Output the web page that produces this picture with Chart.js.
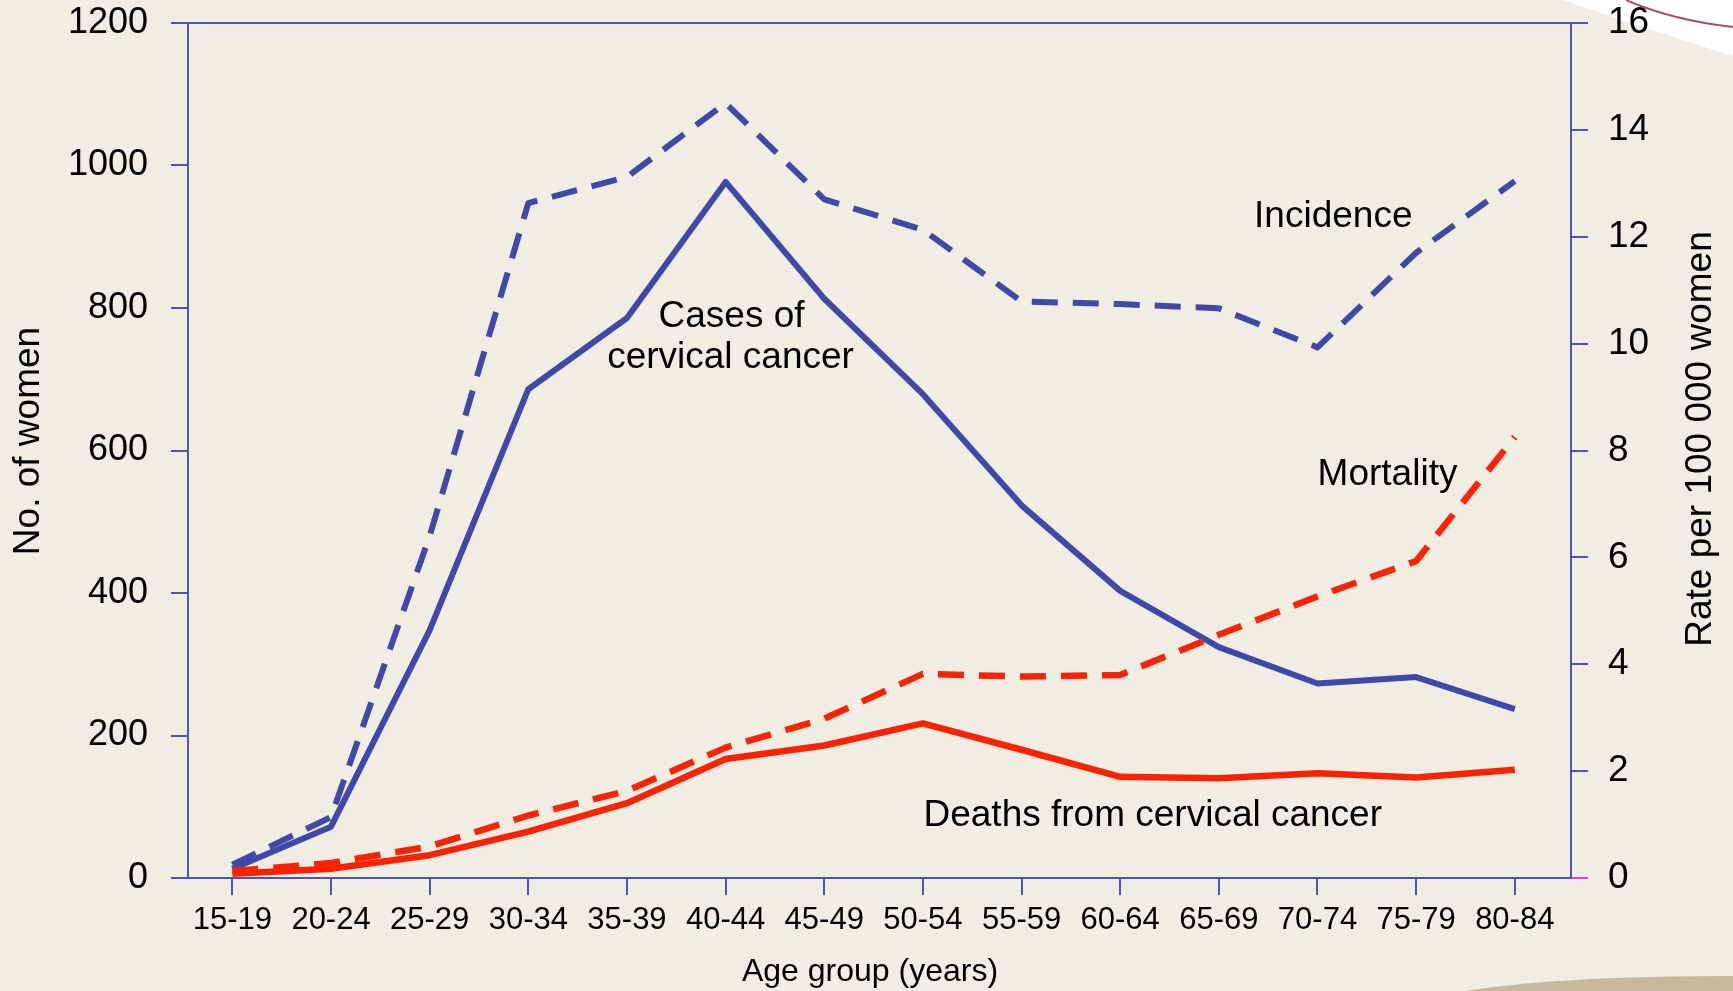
<!DOCTYPE html>
<html>
<head>
<meta charset="utf-8">
<title>Cervical cancer by age group</title>
<script src="https://cdn.jsdelivr.net/npm/chart.js@4.4.1/dist/chart.umd.min.js"></script>
<style>
    html, body { margin: 0; padding: 0; background: #F0EEE3; }
    #wrap { width: 1733px; height: 991px; }
</style>
</head>
<body>
<div id="wrap"><canvas id="chart" width="1733" height="991"></canvas></div>
<script>
// --- data ---
const ageGroups = ['15-19', '20-24', '25-29', '30-34', '35-39', '40-44', '45-49',
                   '50-54', '55-59', '60-64', '65-69', '70-74', '75-79', '80-84'];

// left axis: number of women
const casesCount  = [13, 72, 348, 686, 786, 977, 813, 679, 523, 403, 324, 273, 282, 237];
const deathsCount = [6, 13, 32, 65, 105, 167, 186, 217, 180, 142, 140, 147, 141, 152];

// right axis: rate per 100 000 women
const incidenceRate = [0.25, 1.14, 6.4, 12.63, 13.12, 14.5, 12.7, 12.13, 10.79, 10.74, 10.66, 9.93, 11.7, 13.04];
const mortalityRate = [0.13, 0.28, 0.59, 1.17, 1.63, 2.44, 2.98, 3.82, 3.77, 3.80, 4.55, 5.27, 5.93, 8.25];

const countTicks = [0, 200, 400, 600, 800, 1000, 1200];
const rateTicks  = [0, 2, 4, 6, 8, 10, 12, 14, 16];

// text labels inside the plot (x = age group index, y = left axis value at baseline)
const notes = [
    { text: 'Cases of', x: 5.06, y: 773 },
    { text: 'cervical cancer', x: 5.05, y: 716 },
    { text: 'Incidence', x: 11.16, y: 914 },
    { text: 'Mortality', x: 11.71, y: 552 },
    { text: 'Deaths from cervical cancer', x: 9.33, y: 73 }
];

const FONT = "'Liberation Sans', Arial, Helvetica, sans-serif";
const BLUE = '#4048AA';
const RED = '#FF2200';
const AXIS = '#4E53B8';

const toPoints = arr => arr.map((v, i) => ({ x: i, y: v }));

// y axes: fixed width, no extra room above/below for the end labels
const fitY = width => s => {
    s.width = width;
    s.paddingTop = 0;
    s.paddingBottom = 0;
};

// background, white corner and tan swoosh
const backdrop = {
    id: 'backdrop',
    beforeDraw(chart) {
        const { ctx, width, height } = chart;
        ctx.save();
        ctx.fillStyle = '#F0EEE3';
        ctx.fillRect(0, 0, width, height);

        ctx.fillStyle = '#FFFFFF';
        ctx.beginPath();
        ctx.moveTo(1563, 0);
        ctx.quadraticCurveTo(1650, 30, 1733, 56);
        ctx.lineTo(1733, 0);
        ctx.closePath();
        ctx.fill();

        ctx.strokeStyle = '#A3506E';
        ctx.lineWidth = 2;
        ctx.beginPath();
        ctx.moveTo(1626, 0);
        ctx.quadraticCurveTo(1672, 20, 1733, 27);
        ctx.stroke();

        ctx.fillStyle = '#C8B89B';
        ctx.beginPath();
        ctx.moveTo(1465, 991);
        ctx.quadraticCurveTo(1560, 976, 1733, 976);
        ctx.lineTo(1733, 991);
        ctx.closePath();
        ctx.fill();
        ctx.restore();
    }
};

// top frame line, axis titles and inline labels
const extras = {
    id: 'extras',
    afterDraw(chart) {
        const { ctx, chartArea, scales } = chart;
        ctx.save();
        ctx.strokeStyle = AXIS;
        ctx.lineWidth = 2;
        ctx.beginPath();
        ctx.moveTo(chartArea.left, chartArea.top);
        ctx.lineTo(chartArea.right, chartArea.top);
        ctx.stroke();

        ctx.fillStyle = '#000';
        ctx.textAlign = 'center';
        ctx.textBaseline = 'alphabetic';
        ctx.font = '37px ' + FONT;
        notes.forEach(n => {
            ctx.fillText(n.text, scales.x.getPixelForValue(n.x), scales.y.getPixelForValue(n.y));
        });

        ctx.textBaseline = 'middle';
        ctx.font = '32px ' + FONT;
        ctx.fillText('Age group (years)', 870, 972);

        ctx.font = '37px ' + FONT;
        ctx.save();
        ctx.translate(29, 441);
        ctx.rotate(-Math.PI / 2);
        ctx.fillText('No. of women', 0, 0);
        ctx.restore();

        ctx.save();
        ctx.translate(1701, 439);
        ctx.rotate(-Math.PI / 2);
        ctx.fillText('Rate per 100 000 women', 0, 0);
        ctx.restore();
        ctx.restore();
    }
};

new Chart(document.getElementById('chart'), {
    type: 'line',
    data: {
        datasets: [
            {
                label: 'Mortality',
                data: toPoints(mortalityRate),
                yAxisID: 'y1',
                borderColor: RED,
                borderWidth: 6.5,
                borderDash: [26, 15]
            },
            {
                label: 'Deaths from cervical cancer',
                data: toPoints(deathsCount),
                yAxisID: 'y',
                borderColor: RED,
                borderWidth: 6.5
            },
            {
                label: 'Incidence',
                data: toPoints(incidenceRate),
                yAxisID: 'y1',
                borderColor: BLUE,
                borderWidth: 6,
                borderDash: [26, 15]
            },
            {
                label: 'Cases of cervical cancer',
                data: toPoints(casesCount),
                yAxisID: 'y',
                borderColor: BLUE,
                borderWidth: 6
            }
        ]
    },
    options: {
        responsive: false,
        animation: false,
        layout: { padding: { top: 23, left: 0, right: 0, bottom: 0 } },
        plugins: { legend: { display: false }, tooltip: { enabled: false } },
        elements: {
            point: { radius: 0 },
            line: { tension: 0, borderJoinStyle: 'round', fill: false }
        },
        scales: {
            x: {
                type: 'linear',
                min: -0.45,
                max: 13.57,
                afterBuildTicks: s => { s.ticks = ageGroups.map((_, i) => ({ value: i })); },
                afterFit: s => { s.height = 113; },
                ticks: {
                    autoSkip: false,
                    maxRotation: 0,
                    padding: 7,
                    color: '#000',
                    font: { family: FONT, size: 31 },
                    callback: v => ageGroups[v]
                },
                grid: { drawOnChartArea: false, tickLength: 17, color: AXIS, lineWidth: 2 },
                border: { color: AXIS, width: 2 }
            },
            y: {
                position: 'left',
                min: countTicks[0],
                max: countTicks[countTicks.length - 1],
                afterBuildTicks: s => { s.ticks = countTicks.map(v => ({ value: v })); },
                afterFit: fitY(188),
                ticks: {
                    padding: 23,
                    color: '#000',
                    font: { family: FONT, size: 36 },
                    callback: v => String(v)
                },
                grid: { drawOnChartArea: false, tickLength: 17, color: AXIS, lineWidth: 2 },
                border: { color: AXIS, width: 2 }
            },
            y1: {
                position: 'right',
                min: rateTicks[0],
                max: rateTicks[rateTicks.length - 1],
                afterBuildTicks: s => { s.ticks = rateTicks.map(v => ({ value: v })); },
                afterFit: fitY(162),
                ticks: {
                    padding: 20,
                    color: '#000',
                    font: { family: FONT, size: 37 },
                    callback: v => String(v)
                },
                grid: {
                    drawOnChartArea: false,
                    tickLength: 17,
                    lineWidth: 2,
                    color: c => (c.tick && c.tick.value === 0 ? '#E03CD8' : AXIS)
                },
                border: { color: AXIS, width: 2 }
            }
        }
    },
    plugins: [backdrop, extras]
});
</script>
</body>
</html>
